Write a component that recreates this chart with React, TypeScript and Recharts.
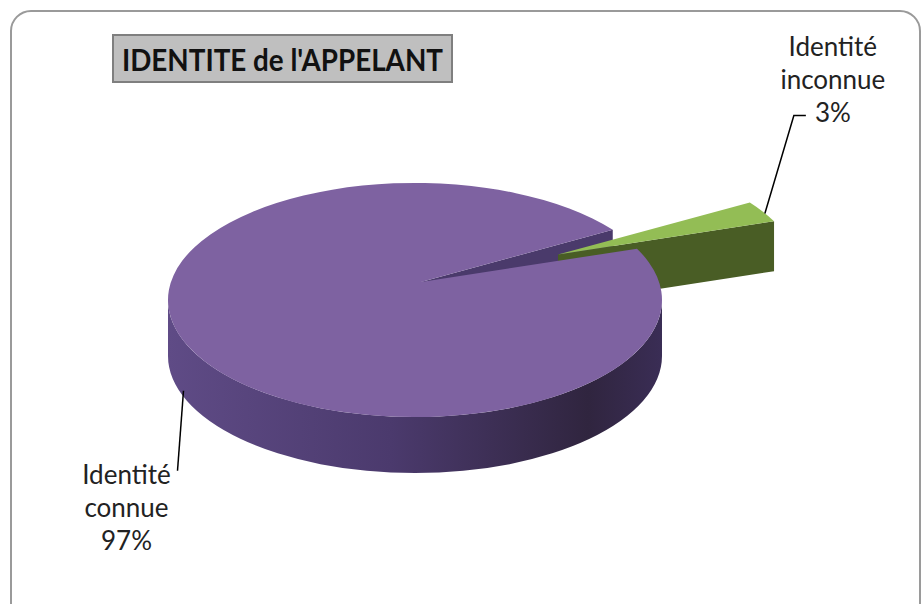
import { PieChart, Pie } from 'recharts';

// data
const categories = ['Identité inconnue', 'Identité connue'];
const shares = [3, 97];
const EXPLODED = 'Identité inconnue';
const TITLE = "IDENTITE de l'APPELANT";

const data = categories.map((name, i) => ({ name, value: shares[i] }));

const COLORS: Record<string, { top: string; wall: string; side: string }> = {
  'Identité inconnue': { top: '#93bd55', wall: '#495d25', side: '#495d25' },
  'Identité connue': { top: '#7e62a1', wall: '#4a3a6b', side: 'url(#purpleSide)' },
};

// fake 3d
const TILT = 0.474;
const DEPTH = 56;
const EXPLODE_X = 0.65;
const EXPLODE_Y = 0.45;
const EXPLODED_DEPTH = 50;
const APEX_DX = 6;
const APEX_DY = -18;
const FONT = 'Lato, "Open Sans", sans-serif';

const rad = (a: number) => (a * Math.PI) / 180;

function geom(props: any) {
  const { cx, cy, outerRadius, startAngle, endAngle } = props;
  const name = props.payload?.name ?? props.name;
  const lo = Math.min(startAngle, endAngle);
  const hi = Math.max(startAngle, endAngle);
  const mid = (lo + hi) / 2;
  const rx = outerRadius;
  const ry = outerRadius * TILT;
  const ex = name === EXPLODED;
  const depth = ex ? EXPLODED_DEPTH : DEPTH;
  const ox = cx + (ex ? EXPLODE_X : 0) * rx * Math.cos(rad(mid));
  const oy = cy - (ex ? EXPLODE_Y : 0) * ry * Math.sin(rad(mid));
  const at = (a: number, d = 0) => `${ox + rx * Math.cos(rad(a))},${oy - ry * Math.sin(rad(a)) + d}`;
  const apex = (d = 0) => `${ox + APEX_DX},${oy + APEX_DY + d}`;
  const radial = (a: number) => `M${apex()}L${at(a)}L${at(a, depth)}L${apex(depth)}Z`;
  return { name, lo, hi, mid, rx, ry, ox, oy, at, apex, radial, depth };
}

// walls facing the viewer: lo edge if cos>0, hi edge if cos<0
function visibleWalls(lo: number, hi: number) {
  const out: number[] = [];
  if (Math.cos(rad(lo)) > 0) out.push(lo);
  if (Math.cos(rad(hi)) < 0) out.push(hi);
  return out;
}

function BackShape(props: any) {
  const g = geom(props);
  const c = COLORS[g.name];
  return (
    <g>
      <defs>
        <linearGradient id="purpleSide" x1="0" y1="0" x2="1" y2="0">
          <stop offset="0" stopColor="#5f4b86" />
          <stop offset="0.45" stopColor="#4b3a6d" />
          <stop offset="0.85" stopColor="#30253f" />
          <stop offset="1" stopColor="#3a2d55" />
        </linearGradient>
      </defs>
      {g.name !== EXPLODED &&
        visibleWalls(g.lo, g.hi).map((a) => <path key={a} d={g.radial(a)} fill={c.wall} />)}
    </g>
  );
}

function FrontShape(props: any) {
  const g = geom(props);
  const c = COLORS[g.name];
  const fronts: [number, number][] = [];
  for (const base of [180, 540]) {
    const s = Math.max(g.lo, base);
    const e = Math.min(g.hi, base + 180);
    if (e > s) fronts.push([s, e]);
  }
  const large = g.hi - g.lo > 180 ? 1 : 0;
  return (
    <g>
      {g.name === EXPLODED &&
        visibleWalls(g.lo, g.hi).map((a) => <path key={a} d={g.radial(a)} fill={c.wall} />)}
      {fronts.map(([s, e]) => {
        const m = (s + e) / 2;
        const d = g.depth;
        return (
          <path
            key={s}
            d={`M${g.at(s)}A${g.rx},${g.ry} 0 0 0 ${g.at(m)}A${g.rx},${g.ry} 0 0 0 ${g.at(e)}L${g.at(e, d)}A${g.rx},${g.ry} 0 0 1 ${g.at(m, d)}A${g.rx},${g.ry} 0 0 1 ${g.at(s, d)}Z`}
            fill={c.side}
          />
        );
      })}
      <path d={`M${g.apex()}L${g.at(g.lo)}A${g.rx},${g.ry} 0 ${large} 0 ${g.at(g.hi)}Z`} fill={c.top} />
    </g>
  );
}

function renderLabel(props: any) {
  const { cx, cy, outerRadius, midAngle, percent } = props;
  const name = props.payload?.name ?? props.name;
  const rx = outerRadius;
  const ry = outerRadius * TILT;
  const lines = [...name.split(' '), `${Math.round(percent * 100)}%`];
  if (name === EXPLODED) {
    const ox = cx + EXPLODE_X * rx * Math.cos(rad(midAngle));
    const oy = cy - EXPLODE_Y * ry * Math.sin(rad(midAngle));
    const ax = ox + rx * Math.cos(rad(midAngle)) + 2;
    const ay = oy - ry * Math.sin(rad(midAngle)) + 2;
    return (
      <g>
        <polyline points={`${ax},${ay} ${ax + 29},${ay - 98} ${ax + 41},${ay - 98}`} fill="none" stroke="#000" strokeWidth={1.5} />
        {lines.map((t, i) => (
          <text key={i} x={ax + 68} y={ay - 158 + i * 33} textAnchor="middle" fontFamily={FONT} fontSize={26} fill="#222">
            {t}
          </text>
        ))}
      </g>
    );
  }
  const a = midAngle - 11;
  const ax = cx + rx * Math.cos(rad(a));
  const ay = cy - ry * Math.sin(rad(a)) + DEPTH - 6;
  return (
    <g>
      <line x1={ax} y1={ay} x2={ax - 6} y2={ay + 80} stroke="#000" strokeWidth={1.5} />
      {lines.map((t, i) => (
        <text key={i} x={ax - 57} y={ay + 93 + i * 33} textAnchor="middle" fontFamily={FONT} fontSize={26} fill="#222">
          {t}
        </text>
      ))}
    </g>
  );
}

export default function App() {
  return (
    <div style={{ position: 'absolute', left: 0, top: 0, width: 923, height: 604, background: '#fff', overflow: 'hidden' }}>
      <svg width={923} height={604} style={{ position: 'absolute', left: 0, top: 0 }}>
        <rect x={11} y={11} width={909} height={620} rx={20} fill="#fff" stroke="#9a9a9a" strokeWidth={2} />
      </svg>
      <div style={{ position: 'absolute', left: 0, top: 0 }}>
        <PieChart width={923} height={604} margin={{ top: 0, right: 0, bottom: 0, left: 0 }}>
          <Pie
            data={data}
            dataKey="value"
            nameKey="name"
            cx={415}
            cy={300}
            outerRadius={247}
            startAngle={26}
            endAngle={386}
            stroke="none"
            shape={BackShape}
            isAnimationActive={false}
          />
          <Pie
            data={data}
            dataKey="value"
            nameKey="name"
            cx={415}
            cy={300}
            outerRadius={247}
            startAngle={26}
            endAngle={386}
            stroke="none"
            shape={FrontShape}
            label={renderLabel}
            labelLine={false}
            isAnimationActive={false}
          />
        </PieChart>
      </div>
      <svg width={923} height={604} style={{ position: 'absolute', left: 0, top: 0, pointerEvents: 'none' }}>
        <rect x={113} y={35} width={339} height={47} fill="#bfbfbf" stroke="#7f7f7f" strokeWidth={2} />
        <text x={122} y={71} fontFamily={FONT} fontWeight={700} fontSize={31} fill="#111" textLength={321} lengthAdjust="spacingAndGlyphs">
          {TITLE}
        </text>
      </svg>
    </div>
  );
}
